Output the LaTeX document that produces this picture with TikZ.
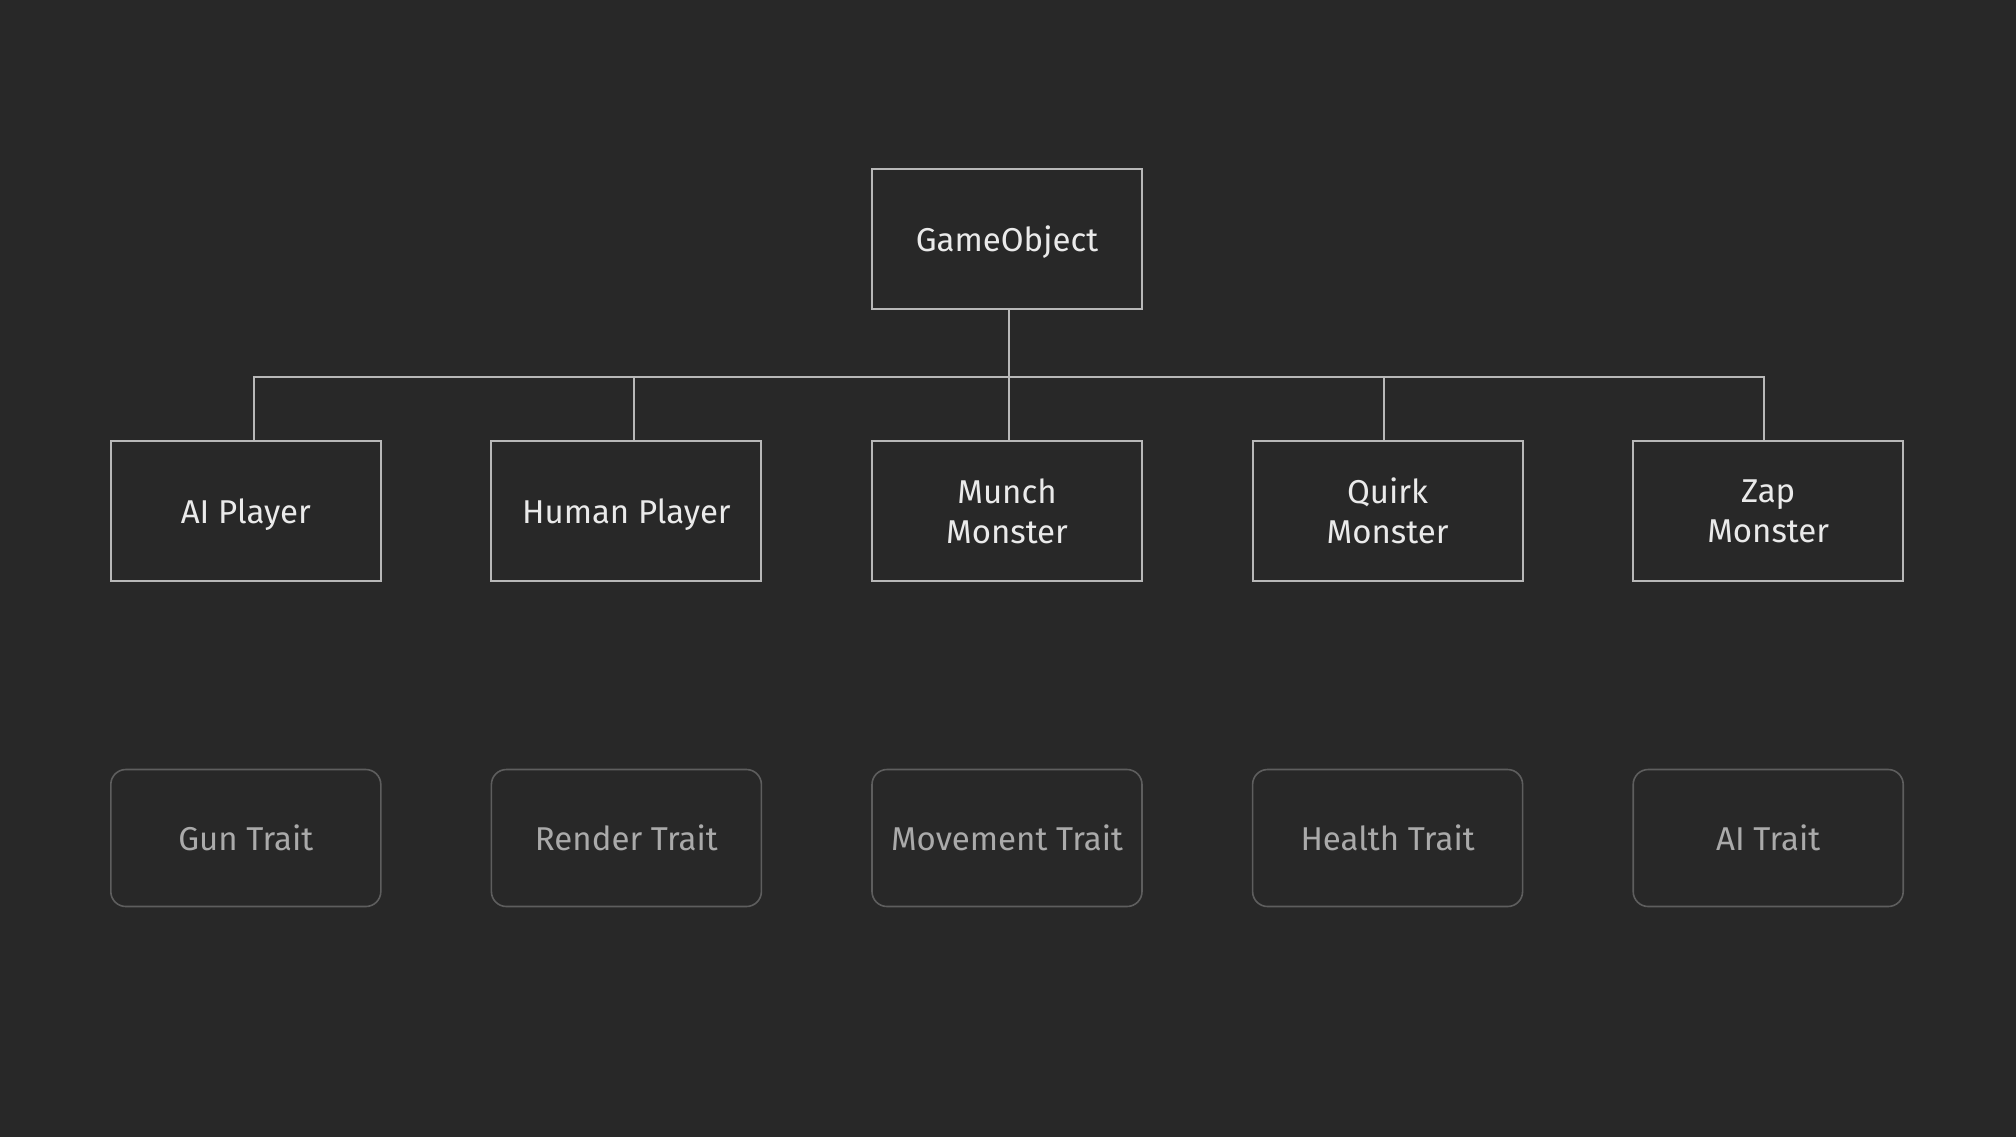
\documentclass[tikz,border=0pt]{standalone}
\usepackage{fontspec}
\setmainfont{Fira Sans}
\usepackage{tikz}
\usetikzlibrary{graphs}
\definecolor{bgcol}{HTML}{282828}
\definecolor{boxline}{HTML}{B8B8B8}
\definecolor{boxtext}{HTML}{EAEAEA}
\definecolor{traitline}{HTML}{5E5E5E}
\definecolor{traittext}{HTML}{AAAAAA}
\tikzstyle{classbox} = [minimum height=70pt, minimum width=135pt, text centered, align=center, text depth=0pt, draw=boxline, line width=1pt, text=boxtext, font=\fontsize{16.5}{20}\selectfont]
\tikzstyle{traitbox} = [minimum height=68.5pt, minimum width=135pt, text centered, align=center, rounded corners=7.5pt, draw=traitline, line width=0.8pt, text=traittext, font=\fontsize{16.5}{20}\selectfont]
\tikzset{busline/.style={to path={([xshift=1.2pt]\tikztostart.south) -- ++(0,-33.5pt) -| ([xshift=#1]\tikztotarget.north)}, draw=boxline, line width=1pt}}
\begin{document}
\begin{tikzpicture}[x=0.5pt, y=-0.5pt]
    \useasboundingbox (0,0) rectangle (2016,1136);
    \fill[bgcol] (-4,-4) rectangle (2020,1140);
    \matrix[row sep=65pt, column sep=54.3pt, inner sep=0pt] at (1007,537.5) {
        & & \node[classbox](go){GameObject}; \\
        \node[classbox](ai){AI Player}; & \node[classbox](hp){Human Player}; & \node[classbox](mm){Munch \\ Monster}; & \node[classbox](qm){Quirk \\ Monster}; & \node[classbox](zm){Zap \\ Monster}; \\[28.5pt]
        \node[traitbox](gt){Gun Trait}; & \node[traitbox](rt){Render Trait}; & \node[traitbox](mt){Movement Trait}; & \node[traitbox](ht){Health Trait}; & \node[traitbox](at){AI Trait}; \\
        };

        \graph {
            (go) --[busline=4pt] (ai);
            (go) --[busline=4pt] (hp);
            (go) --[busline=1.2pt] (mm);
            (go) --[busline=-2pt] (qm);
            (go) --[busline=-2pt] (zm);
        };
    \end{tikzpicture}
\end{document}
